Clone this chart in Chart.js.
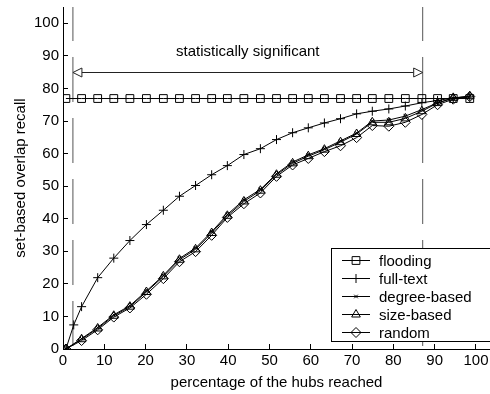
<!DOCTYPE html>
<html>
<head>
<meta charset="utf-8">
<script src="https://cdn.jsdelivr.net/npm/chart.js@4.4.1/dist/chart.umd.min.js"></script>
<style>
  html, body { margin: 0; padding: 0; background: #fff; }
  #wrap { width: 490px; height: 394px; }
</style>
</head>
<body>
<div id="wrap"><canvas id="chart" width="490" height="394"></canvas></div>
<script>
// percentage of hubs reached (x) and recall per strategy (y)
const hubsReached = [0.7, 2.6, 4.5, 8.4, 12.3, 16.2, 20.2, 24.3, 28.2, 32.1, 36.0, 39.8, 43.8, 47.8, 51.7, 55.6, 59.4, 63.3, 67.2, 71.1, 74.9, 78.9, 82.9, 86.9, 90.7, 94.5, 98.5]
const flooding = [76.9, null, 76.9, 76.9, 76.9, 76.9, 76.9, 76.9, 76.9, 76.9, 76.9, 76.9, 76.9, 76.9, 76.9, 76.9, 76.9, 76.9, 76.9, 76.9, 76.9, 76.9, 76.9, 76.9, 76.9, 76.9, 76.9]
const fullText = [0, 7.4, 13.0, 21.9, 27.9, 33.3, 38.2, 42.6, 46.9, 50.2, 53.5, 56.3, 59.7, 61.5, 64.3, 66.4, 67.9, 69.4, 70.7, 72.2, 73.0, 73.7, 74.6, 75.6, 76.3, 77.1, 77.4]
const degreeBased = [0, null, 3.2, 6.6, 10.5, 13.3, 17.8, 22.6, 27.8, 31.0, 36.0, 41.3, 45.8, 49.0, 53.8, 57.4, 59.6, 61.5, 63.9, 66.3, 70.0, 70.3, 71.5, 73.5, 75.6, 77.0, 77.6]
const sizeBased = [0, null, 3.0, 6.3, 10.2, 13.0, 17.5, 22.3, 27.4, 30.6, 35.6, 40.9, 45.3, 48.6, 53.5, 57.0, 59.2, 61.2, 63.5, 66.0, 69.6, 69.6, 70.8, 73.0, 75.5, 77.1, 77.6]
const random = [0, null, 2.6, 5.9, 9.8, 12.6, 16.8, 21.6, 26.8, 29.9, 34.9, 40.4, 44.6, 47.9, 53.0, 56.5, 58.5, 60.6, 62.4, 64.9, 68.6, 68.4, 69.6, 72.0, 75.0, 76.7, 77.5]

const xTicks = [0, 10, 20, 30, 40, 50, 60, 70, 80, 90, 100]
const yTicks = [0, 10, 20, 30, 40, 50, 60, 70, 80, 90, 100]

// significance band
const sigFrom = 2.4
const sigTo = 87.1
const arrowY = 85
const sigLabel = 'statistically significant'

const FONT = '"Liberation Sans", Arial, sans-serif'

const pts = ys => hubsReached.map((x, i) => ({ x: x, y: ys[i] })).filter(p => p.y !== null)

const series = [
    { label: 'flooding', data: flooding, style: 'rect', r: 5.5 },
    { label: 'full-text', data: fullText, style: 'cross', r: 4.5 },
    { label: 'degree-based', data: degreeBased, style: 'crossRot', r: 2.5 },
    { label: 'size-based', data: sizeBased, style: 'triangle', r: 5 },
    { label: 'random', data: random, style: 'rectRot', r: 5 },
]

const datasets = series.map(s => ({
    label: s.label,
    data: pts(s.data),
    borderColor: '#000',
    borderWidth: 1,
    pointStyle: s.style,
    pointRadius: s.r,
    pointBorderColor: '#000',
    pointBackgroundColor: 'rgba(0,0,0,0)',
    pointBorderWidth: 1,
    tension: 0,
}))

// dashed verticals marking the band
for (const x of [sigFrom, sigTo]) {
    datasets.push({
        label: '',
        data: [{ x: x, y: 105 }, { x: x, y: 0 }],
        borderColor: '#555',
        borderWidth: 1,
        borderDash: [45, 16],
        borderDashOffset: 11,
        pointRadius: 0,
    })
}

function arrowHead(ctx, tipX, y, dir) {
    ctx.beginPath()
    ctx.moveTo(tipX, y)
    ctx.lineTo(tipX + dir * 9, y - 4.5)
    ctx.lineTo(tipX + dir * 9, y + 4.5)
    ctx.closePath()
    ctx.fillStyle = '#fff'
    ctx.fill()
    ctx.stroke()
}

const annotate = {
    id: 'annotate',
    afterDatasetsDraw(chart) {
        const { ctx, scales: { x, y } } = chart
        const x1 = x.getPixelForValue(sigFrom)
        const x2 = x.getPixelForValue(sigTo)
        const ya = Math.round(y.getPixelForValue(arrowY)) + 0.5
        ctx.save()
        ctx.strokeStyle = '#222'
        ctx.lineWidth = 1
        ctx.beginPath()
        ctx.moveTo(x1 + 9, ya)
        ctx.lineTo(x2 - 9, ya)
        ctx.stroke()
        arrowHead(ctx, x1, ya, 1)
        arrowHead(ctx, x2, ya, -1)
        ctx.fillStyle = '#000'
        ctx.font = '15px ' + FONT
        ctx.textAlign = 'center'
        ctx.textBaseline = 'middle'
        ctx.fillText(sigLabel, (x1 + x2) / 2, y.getPixelForValue(91.3))
        ctx.restore()
    },
    afterDraw(chart) {
        // legend box, matlab style (line through marker)
        const { ctx } = chart
        const bx = 331.5, by = 248.5, bw = 170, bh = 93
        ctx.save()
        ctx.fillStyle = '#fff'
        ctx.fillRect(bx, by, bw, bh)
        ctx.strokeStyle = '#000'
        ctx.lineWidth = 1
        ctx.strokeRect(bx, by, bw, bh)
        ctx.font = '15px ' + FONT
        ctx.textAlign = 'left'
        ctx.textBaseline = 'middle'
        series.forEach((s, i) => {
            const ry = Math.round(260 + i * 17.9) + 0.5
            ctx.strokeStyle = '#000'
            ctx.beginPath()
            ctx.moveTo(342, ry)
            ctx.lineTo(370, ry)
            ctx.stroke()
            ctx.lineWidth = 1
            ctx.fillStyle = 'rgba(0,0,0,0)'
            Chart.helpers.drawPoint(ctx, { pointStyle: s.style, radius: s.r, rotation: 0, borderWidth: 1 }, 356, ry)
            ctx.fillStyle = '#000'
            ctx.fillText(s.label, 379, ry + 1)
        })
        ctx.restore()
    },
}

const axisGrid = { drawOnChartArea: false, tickLength: -5, color: '#000', lineWidth: 1 }

new Chart(document.getElementById('chart').getContext('2d'), {
    type: 'line',
    data: { datasets: datasets },
    options: {
        responsive: false,
        animation: false,
        devicePixelRatio: 1,
        layout: { autoPadding: false, padding: { top: 7, right: 0, left: 0, bottom: 0 } },
        plugins: {
            legend: { display: false },
            tooltip: { enabled: false },
        },
        scales: {
            x: {
                type: 'linear',
                min: 0,
                max: 103.4,
                grid: axisGrid,
                border: { display: true, color: '#000', width: 1 },
                afterBuildTicks: s => { s.ticks = xTicks.map(v => ({ value: v })) },
                afterFit: s => { s.height = 45; s.paddingLeft = 0; s.paddingRight = 0 },
                ticks: { color: '#000', padding: 8, maxRotation: 0, font: { family: FONT, size: 15 } },
                title: {
                    display: true,
                    text: 'percentage of the hubs reached',
                    color: '#000',
                    padding: { top: 0, bottom: 2 },
                    font: { family: FONT, size: 15 },
                },
            },
            y: {
                min: 0,
                max: 105,
                grid: axisGrid,
                border: { display: true, color: '#000', width: 1 },
                afterBuildTicks: s => { s.ticks = yTicks.map(v => ({ value: v })) },
                afterFit: s => { s.width = 63; s.paddingTop = 0; s.paddingBottom = 0 },
                ticks: { color: '#000', padding: 9, font: { family: FONT, size: 15 } },
                title: {
                    display: true,
                    text: 'set-based overlap recall',
                    color: '#000',
                    padding: { top: 12, bottom: 0 },
                    font: { family: FONT, size: 15 },
                },
            },
        },
    },
    plugins: [annotate],
})
</script>
</body>
</html>
